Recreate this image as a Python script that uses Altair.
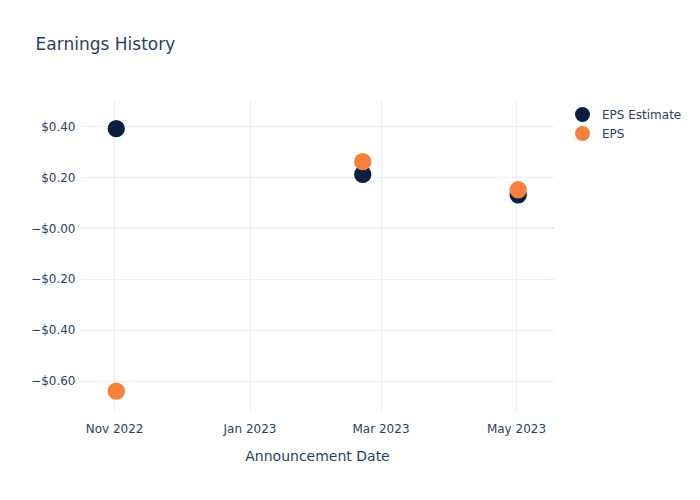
import altair as alt
import pandas as pd

dates = ["2022-11-02T00:00:00", "2023-02-21T00:00:00", "2023-05-02T00:00:00"]
eps_estimate = [0.39, 0.21, 0.13]
eps_actual = [-0.64, 0.26, 0.15]
series_names = ["EPS Estimate", "EPS"]
series_colors = ["#0b1f42", "#f7803a"]

rows = []
for d, v in zip(dates, eps_estimate):
    rows.append({"date": d, "value": v, "series": series_names[0]})
for d, v in zip(dates, eps_actual):
    rows.append({"date": d, "value": v, "series": series_names[1]})
df = pd.DataFrame(rows)

font = "DejaVu Sans"
txt = "#2a3f5f"
grid = "#EBF0F8"

x_ticks = [
    alt.DateTime(year=2022, month=11, date=1),
    alt.DateTime(year=2023, month=1, date=1),
    alt.DateTime(year=2023, month=3, date=1),
    alt.DateTime(year=2023, month=5, date=1),
]
x_domain = [
    alt.DateTime(year=2022, month=10, date=16, hours=16),
    alt.DateTime(year=2023, month=5, date=18, hours=3),
]
y_ticks = [-0.6, -0.4, -0.2, 0.0, 0.2, 0.4]

base = alt.Chart(df)

zero = alt.Chart(pd.DataFrame({"z": [0.0]})).mark_rule(color=grid, strokeWidth=2).encode(
    y=alt.Y("z:Q", scale=alt.Scale(domain=[-0.7216, 0.502], nice=False, zero=False))
)

points = base.mark_circle(size=300, opacity=1).encode(
    x=alt.X(
        "date:T",
        title="Announcement Date",
        scale=alt.Scale(domain=x_domain, nice=False),
        axis=alt.Axis(
            values=x_ticks,
            format="%b %Y",
            grid=True,
            gridColor=grid,
            gridWidth=1,
            domain=False,
            ticks=False,
            labelPadding=11,
            labelFontSize=12,
            labelColor=txt,
            labelFont=font,
            titleFont=font,
            titleFontSize=14,
            titleColor=txt,
            titleFontWeight="normal",
            titlePadding=15,
            labelFlush=False,
        ),
    ),
    y=alt.Y(
        "value:Q",
        title=None,
        scale=alt.Scale(domain=[-0.7216, 0.502], nice=False, zero=False),
        axis=alt.Axis(
            values=y_ticks,
            labelExpr="datum.value < -0.0001 ? '\u2212$' + format(-datum.value, '.2f') : (abs(datum.value) < 0.0001 ? '\u2212$0.00' : '$' + format(datum.value, '.2f'))",
            grid=True,
            gridColor=grid,
            gridWidth=1,
            domain=False,
            ticks=False,
            labelPadding=5,
            labelFontSize=12,
            labelColor=txt,
            labelFont=font,
        ),
    ),
    color=alt.Color(
        "series:N",
        sort=series_names,
        scale=alt.Scale(domain=series_names, range=series_colors),
        legend=alt.Legend(
            title=None,
            orient="none",
            legendX=495,
            legendY=7,
            symbolType="circle",
            symbolSize=225,
            symbolOpacity=1,
            symbolStrokeWidth=0,
            labelFontSize=12,
            labelColor=txt,
            labelFont=font,
            rowPadding=4,
            labelOffset=12,
        ),
    ),
    order=alt.Order("ord:Q"),
).transform_calculate(ord="datum.series == 'EPS' ? 1 : 0")

chart = (
    alt.layer(zero, points)
    .properties(
        width=474,
        height=312,
        autosize=alt.AutoSizeParams(type="none"),
        padding={"left": 80, "top": 100, "right": 146, "bottom": 88},
        title=alt.TitleParams(
            "Earnings History",
            anchor="start",
            offset=46,
            dx=5,
            fontSize=17,
            font=font,
            color=txt,
            fontWeight="normal",
        ),
    )
    .configure(background="white", view=alt.ViewConfig(stroke=None, strokeWidth=0))
)

chart.save("out.html", embed_options={"renderer": "svg", "actions": False})
